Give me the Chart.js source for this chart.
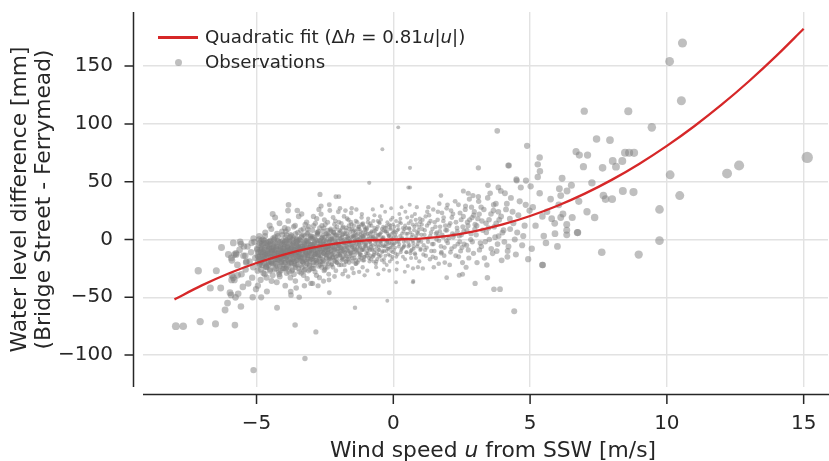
<!DOCTYPE html>
<html>
<head>
<meta charset="utf-8">
<script src="https://cdn.jsdelivr.net/npm/chart.js@4"></script>
<style>
  body { margin: 0; background: #fff; }
  #wrap { position: relative; width: 829px; height: 461px; font-family: "DejaVu Sans", sans-serif; color: #262626; }
  #chart { position: absolute; left: 0; top: 0; }
  .txt { position: absolute; white-space: nowrap; line-height: 20px; font-size: 18.2px; }
  #xtitle { position: absolute; white-space: nowrap; font-size: 21.8px; line-height: 22px; left: 493px; top: 439px; transform: translateX(-50%); }
  #legLine { position: absolute; left: 158px; top: 36.3px; width: 40px; height: 2.4px; background: #d62728; }
  #legDot { position: absolute; left: 174.7px; top: 59.1px; width: 7.2px; height: 7.2px; border-radius: 50%; background: rgba(128,128,128,0.5); }
</style>
</head>
<body>
<div id="wrap">
  <canvas id="chart" width="829" height="461"></canvas>
  <div id="legLine"></div>
  <div class="txt" style="left:205px; top:27.2px;">Quadratic fit (Δ<i>h</i> = 0.81<i>u</i>|<i>u</i>|)</div>
  <div id="legDot"></div>
  <div class="txt" style="left:205px; top:51.5px;">Observations</div>
  <div id="xtitle">Wind speed <i>u</i> from SSW [m/s]</div>
</div>
<script>
// tick positions
const xTicks = [-5, 0, 5, 10, 15];
const yTicks = [-100, -50, 0, 50, 100, 150];

// quadratic fit
const fitWind = [-8, -7, -6, -5, -4, -3, -2, -1, 0, 1, 2, 3, 4, 5, 6, 7, 8, 9, 10, 11, 12, 13, 14, 15];
const fitDiff = [-51.8, -39.7, -29.2, -20.3, -13, -7.3, -3.2, -0.8, 0, 0.8, 3.2, 7.3, 13, 20.3, 29.2, 39.7, 51.8, 65.6, 81, 98, 116.6, 136.9, 158.8, 182.3];

// observations [wind speed, level difference]
const obsWestTail = [
  [-7.95,-75],[-7.68,-75],[-7.06,-71],[-6.5,-73],[-5.79,-74],[-7.13,-27],[-6.47,-27],[-6.69,-42],[-6.31,-42],
  [-6.15,-61],[-6.06,-55],[-5.97,-46],[-5.67,-47],[-5.77,-50],[-5.57,-58],[-5.91,-35],[-5.81,-35],[-6.28,-7],
  [-6.03,-13],[-5.81,-13],[-5.57,-4],[-5.46,-6],[-5.11,1],[-5.11,-113],[-3.23,-103],[-3.59,-74],[-2.83,-80],
  [-4.25,-59],[-4.83,-50],[-5.14,-50],[-3.44,-50],[-3.74,-48],[-2.34,-46],[-1.4,-59],[-0.22,-53],[-5.6,-2],
  [-5.18,-3],[-4.41,22],[-3.83,30],[-3.51,25],[-2.68,39],[-2.1,37],[-2.64,29],[-2.34,30],[-1.52,27],
  [-5.92,-16],[-5.74,-13],[-5.41,-14],[-5.37,-19],[-5.85,-33],[-5.69,-31],[-5.93,-48],
  [-5.9,-18],[-5.85,-3],[-5.7,-22],[-5.62,-9],[-5.55,-30],[-5.48,-14],[-5.4,-26],[-5.33,-6],[-5.3,-38],
  [-5.25,-19],[-5.2,-11],[-5.16,-33],[-5.12,-24],[-5.08,-2],[-5.05,-16],[-5.02,-43],[-5.9,-31],[-5.75,-12],
  [-5.5,-41],[-5.38,-20]
];
const obsCoreWest = [
  [-4.98,-8],[-4.96,-27],[-4.93,-15],[-4.9,3],[-4.88,-21],[-4.85,-35],[-4.83,-11],[-4.8,-4],[-4.78,-18],[-4.75,-29],
  [-4.72,-9],[-4.7,-14],[-4.68,6],[-4.66,-24],[-4.63,-33],[-4.6,-12],[-4.58,-2],[-4.55,-19],[-4.53,-7],[-4.5,-26],
  [-4.48,-15],[-4.46,9],[-4.43,-10],[-4.41,-31],[-4.4,-4],[-4.37,-21],[-4.35,-13],[-4.33,2],[-4.3,-17],[-4.28,-8],
  [-4.26,-37],[-4.24,-23],[-4.22,-1],[-4.2,-12],[-4.18,-28],[-4.16,14],[-4.14,-6],[-4.12,-16],[-4.1,-20],[-4.08,-10],
  [-4.06,4],[-4.04,-25],[-4.02,-14],[-4.01,-3],[-4.95,-40],[-4.62,-45],[-4.45,-36],[-4.15,-32],[-4.77,0],[-4.52,12],
  [-4.32,19],[-4.9,-22],[-4.7,-30],[-4.36,-9],[-4.11,-27],
  [-3.99,-12],[-3.97,-2],[-3.95,-20],[-3.93,7],[-3.91,-15],[-3.9,-29],[-3.88,-6],[-3.86,-10],[-3.84,16],[-3.82,-23],
  [-3.8,-1],[-3.78,-17],[-3.76,-33],[-3.74,-8],[-3.72,3],[-3.7,-13],[-3.68,-26],[-3.66,-4],[-3.64,11],[-3.62,-19],
  [-3.6,-9],[-3.58,-36],[-3.56,-14],[-3.54,1],[-3.52,-22],[-3.5,-6],[-3.48,-11],[-3.46,20],[-3.44,-28],[-3.42,-3],
  [-3.4,-16],[-3.38,8],[-3.36,-8],[-3.34,-24],[-3.32,-13],[-3.3,4],[-3.28,-31],[-3.26,-5],[-3.24,-18],[-3.22,13],
  [-3.2,-10],[-3.18,-1],[-3.16,-21],[-3.14,-14],[-3.12,6],[-3.1,-27],[-3.08,-7],[-3.06,-12],[-3.04,2],[-3.02,-17],
  [-3.01,-38],[-3.95,-40],[-3.85,25],[-3.75,-45],[-3.55,-42],[-3.35,22],[-3.25,-40],[-3.15,-34],[-3.93,-25],[-3.73,-20],
  [-3.63,-30],[-3.53,-2],[-3.43,-9],[-3.33,-19],[-3.23,-26],[-3.13,9],[-3.03,-4],[-3.87,0],[-3.67,-11],[-3.47,-15],
  [-3.27,-3],[-3.17,15],[-3.97,10],[-3.57,5],[-3.07,-22],
  [-2.99,-9],[-2.97,3],[-2.95,-16],[-2.93,-4],[-2.91,12],[-2.9,-22],[-2.88,-7],[-2.86,-28],[-2.84,0],[-2.82,-12],
  [-2.8,18],[-2.78,-19],[-2.76,-3],[-2.74,7],[-2.72,-14],[-2.7,-33],[-2.68,-6],[-2.66,-10],[-2.64,22],[-2.62,-24],
  [-2.6,2],[-2.58,-17],[-2.56,-8],[-2.54,10],[-2.52,-1],[-2.5,-26],[-2.48,-13],[-2.46,5],[-2.44,-20],[-2.42,-5],
  [-2.4,15],[-2.38,-11],[-2.36,-30],[-2.34,-2],[-2.32,-15],[-2.3,8],[-2.28,-7],[-2.26,-22],[-2.24,1],[-2.22,-12],
  [-2.2,19],[-2.18,-4],[-2.16,-18],[-2.14,-9],[-2.12,4],[-2.1,-27],[-2.08,-3],[-2.06,11],[-2.04,-14],[-2.02,-6],
  [-2.01,24],[-2.95,-38],[-2.75,-40],[-2.55,-36],[-2.35,-35],[-2.15,-32],[-2.92,20],[-2.72,26],[-2.52,17],[-2.32,25],
  [-2.12,16],[-2.87,-13],[-2.67,-19],[-2.47,-9],[-2.27,0],[-2.07,-20],[-2.97,-25],[-2.77,6],[-2.57,-2],[-2.37,-6],
  [-2.17,6],[-2.81,-31],[-2.61,12],[-2.41,-24],[-2.21,-16]
];
const obsDenseWest = [
  [-4.97,-9],[-4.94,-19],[-4.91,0],[-4.87,-14],[-4.84,-26],[-4.81,-6],[-4.79,-22],[-4.76,-11],[-4.73,-3],[-4.71,-17],
  [-4.69,3],[-4.65,-23],[-4.62,-13],[-4.59,-5],[-4.57,-20],[-4.54,-8],[-4.51,-27],[-4.49,-1],[-4.47,-15],[-4.44,-10],
  [-4.42,-21],[-4.39,1],[-4.38,-7],[-4.34,-16],[-4.31,-3],[-4.29,-25],[-4.27,-12],[-4.25,5],[-4.23,-18],[-4.21,-6],
  [-4.19,-14],[-4.17,-30],[-4.13,-2],[-4.11,-11],[-4.09,-19],[-4.07,7],[-4.05,-8],[-4.03,-22],[-4.0,-13],[-3.98,-4],
  [-3.96,-16],[-3.94,2],[-3.92,-10],[-3.89,-24],[-3.87,-7],[-3.85,9],[-3.83,-14],[-3.81,-2],[-3.79,-20],[-3.77,-9],
  [-3.75,4],[-3.73,-12],[-3.71,-27],[-3.69,-5],[-3.67,-17],[-3.65,1],[-3.63,-9],[-3.61,-21],[-3.59,12],[-3.57,-13],
  [-3.55,-4],[-3.53,-18],[-3.51,-7],[-3.49,6],[-3.47,-25],[-3.45,-11],[-3.43,0],[-3.41,-15],[-3.39,-6],[-3.37,-29],
  [-3.35,3],[-3.33,-10],[-3.31,-19],[-3.29,9],[-3.27,-8],[-3.25,-14],[-3.23,-1],[-3.21,-23],[-3.19,-5],[-3.17,-12],
  [-3.15,5],[-3.13,-17],[-3.11,-3],[-3.09,11],[-3.07,-10],[-3.05,-26],[-3.03,-7],[-3.01,1],[-2.99,-15],[-2.97,-4],
  [-2.95,8],[-2.93,-20],[-2.91,-9],[-2.89,2],[-2.87,-13],[-2.85,14],[-2.83,-6],[-2.81,-18],[-2.79,-1],[-2.77,-11],
  [-2.75,5],[-2.73,-23],[-2.71,-8],[-2.69,10],[-2.67,-3],[-2.65,-14],[-2.63,1],[-2.61,-19],[-2.59,-6],[-2.57,7],
  [-2.55,-12],[-2.53,-27],[-2.51,-4],[-2.49,13],[-2.47,-9],[-2.45,-16],[-2.43,0],[-2.41,-7],[-2.39,4],[-2.37,-21]
];
const obsCoreMid = [
  [-1.99,-5],[-1.97,8],[-1.95,-14],[-1.93,1],[-1.91,-22],[-1.9,14],[-1.88,-8],[-1.86,-1],[-1.84,-17],[-1.82,5],
  [-1.8,20],[-1.78,-11],[-1.76,-27],[-1.74,-3],[-1.72,10],[-1.7,-15],[-1.68,2],[-1.66,-7],[-1.64,17],[-1.62,-20],
  [-1.6,-2],[-1.58,6],[-1.56,-12],[-1.54,23],[-1.52,-6],[-1.5,-25],[-1.48,3],[-1.46,-9],[-1.44,12],[-1.42,-16],
  [-1.4,-1],[-1.38,7],[-1.36,-21],[-1.34,-4],[-1.32,15],[-1.3,-10],[-1.28,0],[-1.26,-18],[-1.24,9],[-1.22,-7],
  [-1.2,4],[-1.18,-13],[-1.16,19],[-1.14,-3],[-1.12,-24],[-1.1,2],[-1.08,-9],[-1.06,11],[-1.04,-15],[-1.02,-5],
  [-1.01,6],[-1.85,-30],[-1.65,-32],[-1.45,-29],[-1.25,-28],[-1.05,-31],[-1.95,27],[-1.75,25],[-1.55,15],[-1.35,26],
  [-1.15,22],[-1.92,-10],[-1.72,-19],[-1.42,4],[-1.12,13],
  [-0.99,-3],[-0.96,9],[-0.93,-12],[-0.9,3],[-0.87,-19],[-0.84,14],[-0.81,-6],[-0.78,1],[-0.75,-15],[-0.72,7],
  [-0.69,21],[-0.66,-9],[-0.63,-24],[-0.6,-1],[-0.57,11],[-0.54,-13],[-0.51,4],[-0.48,-5],[-0.45,17],[-0.42,-18],
  [-0.39,0],[-0.36,8],[-0.33,-10],[-0.3,24],[-0.27,-4],[-0.24,-22],[-0.21,5],[-0.18,-8],[-0.15,13],[-0.12,-14],
  [-0.09,2],[-0.06,-2],[-0.03,19],[-0.02,-11],[-0.01,6],[-0.95,-27],[-0.75,26],[-0.55,-30],[-0.35,-26],[-0.15,-27],
  [-0.85,-9],[-0.65,5],[-0.45,-3],[-0.25,10],[-0.05,-17],[-0.92,18],[-0.72,-14],[-0.52,15],[-0.32,-6],[-0.12,9],
  [-0.82,2],[-0.62,-19],[-0.42,29],[-0.22,-1],[-0.08,27],
  [0.02,-4],[0.05,7],[0.08,-12],[0.11,2],[0.14,-20],[0.17,12],[0.2,-6],[0.23,0],[0.26,18],[0.29,-9],
  [0.32,5],[0.35,-15],[0.38,-2],[0.41,9],[0.44,24],[0.47,-11],[0.5,1],[0.53,-23],[0.56,14],[0.59,-5],
  [0.62,6],[0.65,-16],[0.68,20],[0.71,-1],[0.74,-8],[0.77,11],[0.8,-13],[0.83,3],[0.86,28],[0.89,-4],
  [0.92,8],[0.95,-19],[0.98,15],[0.12,-26],[0.42,-28],[0.72,-25],[0.3,28],[0.6,30],[0.9,-24],[0.1,16],
  [0.36,-7],[0.64,-10],[0.82,17],[0.48,10],[0.22,22]
];
const obsDenseMid = [
  [-2.39,-12],[-2.36,3],[-2.33,-8],[-2.31,-17],[-2.29,9],[-2.27,-4],[-2.25,-13],[-2.23,0],[-2.21,-24],[-2.19,6],
  [-2.17,-9],[-2.15,13],[-2.13,-2],[-2.11,-15],[-2.09,-6],[-2.07,4],[-2.05,-20],[-2.03,-1],[-2.01,-10],[-1.99,15],
  [-1.97,-4],[-1.95,-13],[-1.93,7],[-1.91,-7],[-1.89,-18],[-1.87,2],[-1.85,-10],[-1.83,11],[-1.81,-3],[-1.79,-22],
  [-1.77,5],[-1.75,-6],[-1.73,-14],[-1.71,0],[-1.69,18],[-1.67,-9],[-1.65,3],[-1.63,-4],[-1.61,-17],[-1.59,9],
  [-1.57,-1],[-1.55,-11],[-1.53,13],[-1.51,-7],[-1.49,-19],[-1.47,2],[-1.45,-3],[-1.43,8],[-1.41,-13],[-1.39,-5],
  [-1.37,16],[-1.35,-9],[-1.33,1],[-1.31,-20],[-1.29,5],[-1.27,-2],[-1.25,11],[-1.23,-12],[-1.21,-6],[-1.19,7],
  [-1.17,-16],[-1.15,-1],[-1.13,3],[-1.11,14],[-1.09,-8],[-1.07,-18],[-1.05,0],[-1.03,9],[-1.0,-4],[-0.97,-14],
  [-0.94,5],[-0.91,-8],[-0.88,12],[-0.85,-2],[-0.82,-17],[-0.79,7],[-0.76,-5],[-0.73,16],[-0.7,-11],[-0.67,1],
  [-0.64,-21],[-0.61,9],[-0.58,-3],[-0.55,4],[-0.52,-9],[-0.49,20],[-0.46,-14],[-0.43,2],[-0.4,-6],[-0.37,11],
  [-0.34,-17],[-0.31,-1],[-0.28,7],[-0.25,-10],[-0.22,15],[-0.19,-4],[-0.16,3],[-0.13,-19],[-0.1,10],[-0.07,-7],
  [-0.04,0],[-0.01,13],
  [0.03,-9],[0.07,4],[0.11,-15],[0.15,8],[0.19,-2],[0.23,15],[0.27,-11],[0.31,1],[0.35,10],[0.39,-6],
  [0.43,-17],[0.47,5],[0.51,19],[0.55,-3],[0.59,9],[0.63,-12],[0.67,2],[0.71,13],[0.75,-6],[0.79,22],
  [0.83,-16],[0.87,6],[0.91,-1],[0.95,11],[0.99,-9],[1.03,4],[1.07,17],[1.11,-5],[1.15,8],[1.19,-14],
  [1.23,12],[1.27,-2],[1.31,21],[1.35,3],[1.39,-10],[1.43,9],[1.47,-4],[1.51,15],[1.55,-16],[1.59,6],
  [1.63,24],[1.67,-1],[1.71,11],[1.75,-12],[1.79,4],[1.83,16],[1.87,-7],[1.91,8],[1.95,27],[1.99,-3],
  [2.04,12],[2.09,-11],[2.14,19],[2.19,2],[2.24,-6],[2.29,15],[2.34,7],[2.39,-15],[2.44,23],[2.49,4],
  [2.54,11],[2.59,-4],[2.64,29],[2.69,8],[2.74,-9],[2.79,17],[2.84,5],[2.89,-2],[2.94,21],[2.99,13],
  [3.05,12],[3.14,22],[3.22,-6],[3.31,26],[3.4,6],[3.5,17],[3.58,-8],[3.67,30],[3.76,14],[3.85,3],
  [3.94,20],[4.06,-2],[4.15,31],[4.27,9],[4.36,24]
];
const obsDenseCore = [
  [-4.96,-14],[-4.92,-5],[-4.89,-17],[-4.86,-9],[-4.82,-1],[-4.78,-13],[-4.74,-20],[-4.7,-7],[-4.67,-16],[-4.64,-3],
  [-4.61,-10],[-4.57,-22],[-4.54,-12],[-4.5,-4],[-4.47,-19],[-4.43,-8],[-4.4,-15],[-4.36,0],[-4.33,-11],[-4.3,-21],
  [-4.27,-6],[-4.24,-14],[-4.2,-2],[-4.17,-18],[-4.14,-9],[-4.1,-13],[-4.07,-4],[-4.04,-17],[-4.01,-8],[-3.98,-20],
  [-3.95,-11],[-3.92,-1],[-3.89,-15],[-3.86,-6],[-3.83,-19],[-3.8,-10],[-3.77,2],[-3.74,-13],[-3.71,-7],[-3.68,-17],
  [-3.65,-3],[-3.62,-12],[-3.59,-22],[-3.56,-8],[-3.53,0],[-3.5,-14],[-3.47,-5],[-3.44,-18],[-3.41,-10],[-3.38,-1],
  [-3.35,-15],[-3.32,-6],[-3.29,-20],[-3.26,-9],[-3.23,3],[-3.2,-13],[-3.17,-7],[-3.14,-16],[-3.11,-2],[-3.08,-11],
  [-3.05,-19],[-3.02,-5],[-2.99,-12],[-2.96,1],[-2.93,-8],[-2.9,-15],[-2.87,-3],[-2.84,-18],[-2.81,-9],[-2.78,4],
  [-2.75,-13],[-2.72,-6],[-2.69,-16],[-2.66,-1],[-2.63,-10],[-2.6,-21],[-2.57,-4],[-2.54,-12],[-2.51,2],[-2.48,-7],
  [-2.45,-14],[-2.42,5],[-2.39,-9],[-2.36,-17],[-2.33,-2],[-2.3,-11],[-2.27,7],[-2.24,-6],[-2.21,-15],[-2.18,0],
  [-2.15,-8],[-2.12,-19],[-2.09,3],[-2.06,-10],[-2.03,-4],[-2.0,-13],[-1.97,6],[-1.94,-7],[-1.91,-1],[-1.88,-16],
  [-1.85,4],[-1.82,-9],[-1.79,-3],[-1.76,-12],[-1.73,8],[-1.7,-6],[-1.67,-17],[-1.64,1],[-1.61,-10],[-1.58,-2],
  [-1.55,-14],[-1.52,9],[-1.49,-5],[-1.46,-11],[-1.43,3],[-1.4,-8],[-1.37,-18],[-1.34,0],[-1.31,-7],[-1.28,11],
  [-1.25,-4],[-1.22,-13],[-1.19,2],[-1.16,-9],[-1.13,6],[-1.1,-2],[-1.07,-15],[-1.04,4],[-1.01,-6],[-0.98,10],
  [-0.95,-10],[-0.92,0],[-0.89,-16],[-0.86,5],[-0.83,-4],[-0.8,12],[-0.77,-8],[-0.74,2],[-0.71,-13],[-0.68,-1],
  [-0.65,8],[-0.62,-6],[-0.59,-17],[-0.56,3],[-0.53,-9],[-0.5,14],[-0.47,-2],[-0.44,6],[-0.41,-11],[-0.38,1],
  [-0.35,-5],[-0.32,10],[-0.29,-14],[-0.26,-1],[-0.23,7],[-0.2,-8],[-0.17,3],[-0.14,-3],[-0.11,12],[-0.08,-10],
  [-0.05,5],[-0.02,-5],[0.01,2],[0.04,11],[0.07,-7],[0.1,6],[0.13,-2],[0.16,-13],[0.19,9],[0.22,-4],
  [0.25,3],[0.28,14],[0.31,-8],[0.34,1],[0.37,7],[0.4,-5],[0.43,12],[0.46,-1],[0.49,-11],[0.52,5],
  [0.55,-6],[0.58,10],[0.61,0],[0.64,16],[0.67,-9],[0.7,4],[0.73,-3],[0.76,8],[0.79,-12],[0.82,1],
  [0.85,13],[0.88,-6],[0.91,5],[0.94,-1],[0.97,18],[1.0,-8]
];
const obsDenseInner = [
  [-4.93,-11],[-4.88,-3],[-4.85,-19],[-4.8,-8],[-4.76,-15],[-4.72,-1],[-4.68,-12],[-4.63,-24],[-4.6,-6],[-4.56,-14],
  [-4.52,-2],[-4.48,-9],[-4.45,-20],[-4.41,-12],[-4.37,-5],[-4.34,-26],[-4.3,-9],[-4.26,-17],[-4.22,3],[-4.19,-11],
  [-4.15,-23],[-4.12,-7],[-4.08,-15],[-4.05,-1],[-4.02,-10],[-3.99,-25],[-3.96,-6],[-3.93,-14],[-3.9,4],[-3.87,-18],
  [-3.84,-9],[-3.81,-28],[-3.78,-4],[-3.75,-12],[-3.72,-21],[-3.69,0],[-3.66,-8],[-3.63,-16],[-3.6,-3],[-3.57,-24],
  [-3.54,-11],[-3.51,-18],[-3.48,-1],[-3.45,-7],[-3.42,-13],[-3.39,-22],[-3.36,2],[-3.33,-16],[-3.3,-8],[-3.27,-27],
  [-3.24,-4],[-3.21,-11],[-3.18,-19],[-3.15,-1],[-3.12,-14],[-3.09,-7],[-3.06,-23],[-3.03,3],[-3.0,-10],[-2.97,-17],
  [-2.94,-6],[-2.91,-25],[-2.88,-2],[-2.85,-12],[-2.82,-20],[-2.79,6],[-2.76,-9],[-2.73,-15],[-2.7,-1],[-2.67,-22],
  [-2.64,-5],[-2.61,-11],[-2.58,3],[-2.55,-18],[-2.52,-8],[-2.49,-24],[-2.46,-2],[-2.43,-13],[-2.4,8],[-2.37,-6],
  [-2.34,-16],[-2.31,0],[-2.28,-10],[-2.25,-21],[-2.22,4],[-2.19,-7],[-2.16,-13],[-2.13,9],[-2.1,-4],[-2.07,-17],
  [-2.04,1],[-2.01,-8],[-1.98,-22],[-1.95,3],[-1.92,-12],[-1.89,-4],[-1.86,10],[-1.83,-15],[-1.8,-7],[-1.77,0],
  [-1.74,-19],[-1.71,5],[-1.68,-10],[-1.65,-2],[-1.62,12],[-1.59,-13],[-1.56,-5],[-1.53,2],[-1.5,-16],[-1.47,7],
  [-1.44,-8],[-1.41,-1],[-1.38,-21],[-1.35,4],[-1.32,-11],[-1.29,9],[-1.26,-3],[-1.23,-15],[-1.2,1],[-1.17,13],
  [-1.14,-9],[-1.11,-18],[-1.08,3],[-1.05,-6],[-1.02,8],[-0.99,-12],[-0.96,0],[-0.93,15],[-0.9,-7],[-0.87,-2],
  [-0.84,-14],[-0.81,6],[-0.78,-9],[-0.75,3],[-0.72,-19],[-0.69,10],[-0.66,-4],[-0.63,1],[-0.6,-12],[-0.57,16],
  [-0.54,-6],[-0.51,-15],[-0.48,5],[-0.45,-1],[-0.42,9],[-0.39,-10],[-0.36,2],[-0.33,-20],[-0.3,7],[-0.27,-6],
  [-0.24,12],[-0.21,-2],[-0.18,-13],[-0.15,4],[-0.12,-7],[-0.09,17],[-0.06,-4],[-0.03,-15],[0.0,8],[0.06,-3]
];
const obsCoreEast = [
  [1.02,-2],[1.06,9],[1.1,-13],[1.14,4],[1.18,20],[1.22,-7],[1.26,1],[1.3,14],[1.34,-17],[1.38,6],
  [1.42,-4],[1.46,26],[1.5,-10],[1.54,11],[1.58,0],[1.62,17],[1.66,-21],[1.7,7],[1.74,-6],[1.78,23],
  [1.82,2],[1.86,-14],[1.9,12],[1.94,-1],[1.98,30],[1.08,-25],[1.28,28],[1.48,-24],[1.68,31],[1.88,-20],
  [1.16,-9],[1.36,16],[1.56,5],[1.76,-11],[1.96,8],[1.04,13],[1.24,24],[1.44,-15],[1.64,3],[1.84,19],
  [2.03,1],[2.08,14],[2.13,-8],[2.18,22],[2.23,4],[2.28,-14],[2.33,10],[2.38,30],[2.43,-2],[2.48,17],
  [2.53,-20],[2.58,7],[2.63,26],[2.68,-5],[2.73,12],[2.78,35],[2.83,0],[2.88,19],[2.93,-12],[2.98,9],
  [2.06,-22],[2.26,33],[2.46,-10],[2.66,-24],[2.86,28],[2.16,5],[2.36,-4],[2.56,20],[2.76,-16],[2.96,24],
  [2.11,25],[2.41,3],[2.71,15],[2.91,38],[2.51,-7],
  [3.03,4],[3.09,18],[3.15,-9],[3.21,28],[3.27,8],[3.33,-16],[3.39,14],[3.45,36],[3.51,0],[3.57,22],
  [3.63,-12],[3.69,11],[3.75,31],[3.81,-4],[3.87,17],[3.93,42],[3.99,6],[3.06,-20],[3.36,-2],[3.66,25],
  [3.96,-18],[3.12,33],[3.42,-22],[3.72,2],[3.24,16],[3.54,40],[3.84,24],[3.18,-3],[3.48,10],[3.78,-10],
  [4.03,8],[4.12,26],[4.21,-6],[4.3,36],[4.39,14],[4.48,-13],[4.57,21],[4.66,45],[4.75,3],[4.84,30],
  [4.93,-17],[4.08,40],[4.26,18],[4.44,0],[4.62,33],[4.8,12],[4.98,25],[4.17,-15],[4.53,6],[4.71,-5],
  [5.1,28],[5.2,12],[5.35,40],[5.5,3],[5.62,24],[5.75,35],[5.9,14],[6.05,30],[6.2,22],[6.35,42],[5.45,20],[6.0,-6]
];
const obsEastTail = [
  [10.57,170],[10.1,154],[10.53,120],[6.98,111],[8.59,111],[9.45,97],[7.43,87],[7.92,86],[6.68,76],[6.8,73],
  [7.1,73],[8.47,75],[8.62,75],[8.8,75],[8.02,68],[8.37,68],[8.14,63],[6.95,63],[7.65,62],[4.89,81],
  [4.2,64],[15.13,71],[12.64,64],[12.2,57],[10.12,56],[10.47,38],[9.73,26],[9.73,-1],[8.97,-13],[7.62,-11],
  [5.45,-22],[8.39,42],[8.78,41],[7.68,38],[7.76,35],[8.0,35],[7.26,49],[6.51,47],[6.17,53],[7.08,24],
  [7.36,19],[6.78,33],[6.73,6],[6.34,13],[6.34,8],[5.91,5],[6.54,19],[6.12,19],[5.79,18],[5.58,-3],
  [5.06,-8],[4.18,-10],[6.12,38],[6.07,44],[5.35,71],[5.28,65],[5.02,46],[4.85,51],[4.51,51],[3.8,94],
  [3.11,62],[4.23,64],[0.61,62],[0.18,97],[3.46,47],[4.5,52],[5.36,59],[5.28,54],[2.56,42],[2.74,40],
  [1.74,38],[0.61,45],[3.11,37],[3.84,45],[-0.4,78],[-0.88,49],[0.55,45],[-1.99,37],[6.34,4],[6.74,6],
  [0.1,-37],[0.73,-36],[4.42,-62],[3.68,-43],[3.9,-43],[3.44,-33],[2.99,-38],[2.41,-31],[2.53,-30],[1.95,-33],
  [0.72,-37],[5.46,-22]
];

const observations = [...obsWestTail, ...obsCoreWest, ...obsDenseWest, ...obsCoreMid, ...obsDenseMid,
  ...obsDenseCore, ...obsDenseInner, ...obsCoreEast, ...obsEastTail].map(([x, y]) => ({ x, y }));
const fitPoints = fitWind.map((x, i) => ({ x, y: fitDiff[i] }));

const INK = '#262626';
const minus = v => (v < 0 ? '\u2212' + Math.abs(v) : String(v));
const noPad = s => { s.paddingTop = 0; s.paddingBottom = 0; s.paddingLeft = 0; s.paddingRight = 0; };

// offset spines with outward tick marks (seaborn despine look)
const spines = {
  id: 'spines',
  afterDraw(chart) {
    const { ctx, chartArea: a, scales } = chart;
    ctx.save();
    ctx.strokeStyle = INK;
    ctx.lineWidth = 1.5;
    const lx = a.left - 9.5, by = a.bottom + 7.5;
    ctx.beginPath();
    ctx.moveTo(lx, a.top); ctx.lineTo(lx, a.bottom);
    ctx.moveTo(a.left, by); ctx.lineTo(chart.width, by);
    yTicks.forEach(v => { const y = scales.y.getPixelForValue(v); ctx.moveTo(lx - 9, y); ctx.lineTo(lx, y); });
    xTicks.forEach(v => { const x = scales.x.getPixelForValue(v); ctx.moveTo(x, by); ctx.lineTo(x, by + 9.5); });
    ctx.stroke();
    ctx.restore();
  }
};

Chart.defaults.font.family = '"DejaVu Sans", sans-serif';
Chart.defaults.color = INK;

new Chart(document.getElementById('chart'), {
  type: 'scatter',
  data: {
    datasets: [
      {
        label: 'Quadratic fit',
        data: fitPoints,
        showLine: true,
        borderColor: '#d62728',
        borderWidth: 2.3,
        pointRadius: 0,
        cubicInterpolationMode: 'monotone',
        order: 0
      },
      {
        label: 'Observations',
        data: observations,
        backgroundColor: 'rgba(128,128,128,0.5)',
        borderWidth: 0,
        pointRadius: ctx => 1.9 + 0.25 * Math.abs(ctx.raw ? ctx.raw.x : 0),
        order: 1
      }
    ]
  },
  options: {
    responsive: false,
    animation: false,
    devicePixelRatio: 1,
    layout: { autoPadding: false, padding: { top: 12, right: 1, left: 0, bottom: 0 } },
    plugins: { legend: { display: false }, tooltip: { enabled: false } },
    scales: {
      x: {
        type: 'linear',
        min: -9.15,
        max: 15.89,
        afterBuildTicks: s => { s.ticks = xTicks.map(value => ({ value })); },
        afterFit: s => { s.height = 74; noPad(s); },
        ticks: { font: { size: 20 }, padding: 24.5, callback: minus },
        grid: { color: '#e2e2e2', lineWidth: 1.4, drawTicks: false },
        border: { display: false }
      },
      y: {
        type: 'linear',
        min: -127.6,
        max: 196.8,
        afterBuildTicks: s => { s.ticks = yTicks.map(value => ({ value })); },
        afterFit: s => { s.width = 143; noPad(s); },
        ticks: { font: { size: 20 }, padding: 30, callback: minus },
        grid: { color: '#e2e2e2', lineWidth: 1.4, drawTicks: false },
        border: { display: false },
        title: {
          display: true,
          text: ['Water level difference [mm]', '(Bridge Street - Ferrymead)'],
          font: { size: 21.8, lineHeight: 1.1 },
          padding: { top: 8, bottom: 0 }
        }
      }
    }
  },
  plugins: [spines]
});
</script>
</body>
</html>
